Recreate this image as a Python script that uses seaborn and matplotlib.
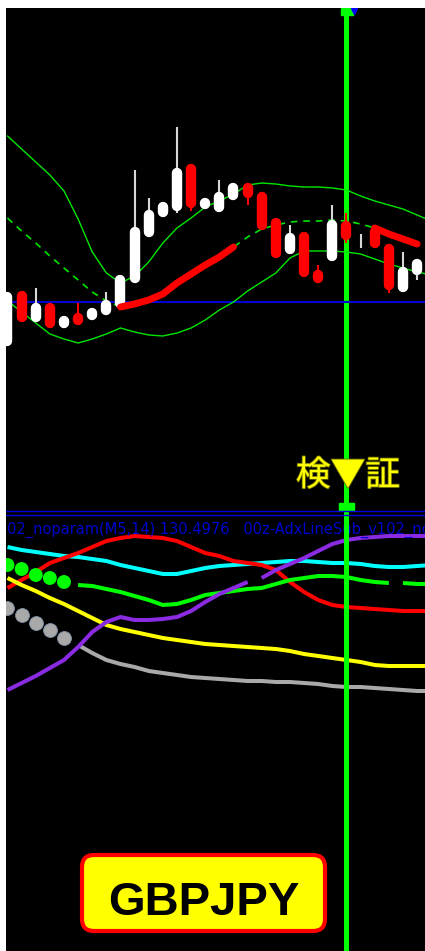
import matplotlib
matplotlib.use("Agg")  # headless
import matplotlib.pyplot as plt
import matplotlib.patheffects as pe
from matplotlib.patches import FancyBboxPatch, Rectangle
from matplotlib.lines import Line2D
from matplotlib.transforms import blended_transform_factory
import numpy as np
import seaborn as sns

# ---------------------------------------------------------------------
# Price panel data (GBPJPY M5, 30 bars)
# ---------------------------------------------------------------------
CANDLE_OPEN = [190.54, 191.09, 190.78, 190.97, 190.72, 190.87, 190.80, 190.85, 190.92, 191.17,
               191.63, 191.83, 191.89, 192.36, 191.93, 191.88, 192.00, 192.17, 192.08, 191.82,
               191.46, 191.68, 191.30, 191.39, 191.79, 191.60, 191.73, 191.56, 191.08, 191.25]
CANDLE_HIGH = [191.08, 191.09, 191.12, 190.97, 190.84, 190.97, 190.92, 191.08, 191.25, 192.30,
               192.02, 191.98, 192.73, 192.36, 192.00, 192.20, 192.17, 192.17, 192.08, 191.82,
               191.75, 191.68, 191.35, 191.95, 191.87, 191.66, 191.73, 191.56, 191.48, 191.41]
CANDLE_LOW = [190.54, 190.78, 190.78, 190.72, 190.72, 190.75, 190.80, 190.85, 190.92, 191.17,
              191.63, 191.83, 191.87, 191.89, 191.93, 191.88, 192.00, 191.95, 191.70, 191.42,
              191.46, 191.23, 191.17, 191.39, 191.57, 191.52, 191.52, 191.07, 191.08, 191.20]
CANDLE_CLOSE = [191.08, 190.78, 190.97, 190.72, 190.84, 190.75, 190.92, 191.00, 191.25, 191.73,
                191.90, 191.98, 192.32, 191.92, 192.00, 192.08, 192.17, 192.02, 191.70, 191.42,
                191.67, 191.23, 191.17, 191.80, 191.60, 191.66, 191.52, 191.10, 191.33, 191.41]

BAND_UPPER = [192.64, 192.51, 192.38, 192.25, 192.09, 191.81, 191.48, 191.27, 191.17, 191.24,
              191.38, 191.57, 191.72, 191.82, 191.93, 191.99, 192.06, 192.15, 192.17, 192.16,
              192.14, 192.13, 192.13, 192.12, 192.10, 192.04, 191.99, 191.95, 191.91, 191.85, 191.79]
BAND_LOWER = [190.99, 190.88, 190.77, 190.66, 190.61, 190.57, 190.61, 190.66, 190.72, 190.68,
              190.65, 190.64, 190.67, 190.72, 190.80, 190.90, 190.98, 191.09, 191.18, 191.27,
              191.42, 191.49, 191.49, 191.49, 191.48, 191.46, 191.41, 191.36, 191.32, 191.28, 191.25]
BAND_MIDDLE = [191.82, 191.69, 191.57, 191.44, 191.32, 191.20, 191.08, 190.99, 190.93, 190.96,
               191.00, 191.06, 191.17, 191.26, 191.35, 191.43, 191.53, 191.63, 191.71, 191.75,
               191.78, 191.79, 191.79, 191.80, 191.79, 191.76, 191.72, 191.66, 191.61, 191.56]
MIDDLE_DASHED = [(0, 27)]
MIDDLE_RED = [(8, 17), (26, 30)]
LEVEL_LINE = 190.98
MARK_BAR = 24

# ---------------------------------------------------------------------
# Sub window data (31 values, last one just off screen)
# ---------------------------------------------------------------------
SUB_CYAN = [41.3, 41.0, 40.8, 40.6, 40.4, 40.3, 40.1, 39.9, 39.5, 39.2, 38.9, 38.6, 38.6, 38.9, 39.2, 39.4,
            39.5, 39.6, 39.7, 39.8, 39.9, 39.9, 39.8, 39.7, 39.7, 39.6, 39.4, 39.3, 39.3, 39.4, 39.5]
SUB_RED = [37.2, 38.0, 38.8, 39.7, 40.2, 40.7, 41.3, 41.9, 42.2, 42.4, 42.3, 42.2, 41.9, 41.3, 40.7, 40.4,
           39.9, 39.7, 39.5, 39.0, 37.8, 36.8, 36.0, 35.5, 35.3, 35.2, 35.1, 35.0, 34.9, 34.9, 34.9]
SUB_GREEN = [39.5, 39.1, 38.5, 38.2, 37.8, 37.5, 37.4, 37.1, 36.8, 36.4, 36.0, 35.5, 35.6, 36.0, 36.5, 36.7,
             36.9, 37.1, 37.2, 37.6, 38.0, 38.2, 38.4, 38.4, 38.3, 38.0, 37.8, 37.7, 37.7, 37.6, 37.6]
SUB_GRAY = [35.2, 34.5, 33.7, 33.0, 32.2, 31.5, 30.7, 30.0, 29.6, 29.3, 28.9, 28.7, 28.5, 28.3, 28.2, 28.1,
            28.0, 27.9, 27.9, 27.8, 27.8, 27.7, 27.6, 27.4, 27.3, 27.3, 27.2, 27.1, 27.0, 26.9, 26.9]
SUB_YELLOW = [38.2, 37.5, 36.9, 36.2, 35.6, 34.9, 34.2, 33.5, 33.1, 32.8, 32.5, 32.2, 32.0, 31.8, 31.6, 31.5,
              31.4, 31.3, 31.2, 31.1, 30.9, 30.6, 30.4, 30.2, 30.0, 29.8, 29.5, 29.4, 29.4, 29.4, 29.4]
SUB_PURPLE = [27.0, 27.7, 28.4, 29.2, 30.0, 31.3, 32.8, 33.8, 34.3, 34.0, 34.0, 34.1, 34.3, 34.9, 35.8, 36.6,
              37.2, 37.8, 38.2, 39.0, 39.6, 40.2, 40.9, 41.6, 42.0, 42.2, 42.3, 42.4, 42.4, 42.4, 42.4]
GREEN_DOTS = (0, 5)
GRAY_DOTS = (0, 5)
GREEN_SEGMENTS = [(5, 28), (28, 31)]
GRAY_SEGMENTS = [(5, 31)]
PURPLE_SEGMENTS = [(0, 18), (18, 31)]
FULL = [(0, 31)]

SUB_LABEL = "02_noparam(M5,14) 130.4976   00z-AdxLineSub_v102_no"
MARK_TEXT = "検▼証"
SYMBOL = "GBPJPY"

# ---------------------------------------------------------------------
W, H = 425, 951
XLIM = (-0.106, 29.56)
TOP_YLIM = (188.88, 193.92)
SUB_YLIM = (0.9, 44.8)

sns.set_theme(style="dark")
plt.rcParams["font.family"] = ["DejaVu Sans"]

fig = plt.figure(figsize=(W / 100, H / 100), dpi=100, facecolor="white")
ax = fig.add_axes([6 / W, 439 / H, 419 / W, 504 / H])
ax2 = fig.add_axes([6 / W, 0, 419 / W, 439 / H])
for a in (ax, ax2):
    a.set_facecolor("black")
    a.set_xlim(*XLIM)
    a.set_xticks([])
    a.set_yticks([])
    for s in a.spines.values():
        s.set_visible(False)
ax.set_ylim(*TOP_YLIM)
ax2.set_ylim(*SUB_YLIM)

# ---------------------------------------------------------------------
# Price panel
# ---------------------------------------------------------------------
bars = np.arange(len(CANDLE_OPEN))
line_x = np.arange(len(BAND_UPPER))

ax.axvline(MARK_BAR, color="#00FF00", lw=3.6, zorder=1)
ax.axhline(LEVEL_LINE, color="#0000D0", lw=1.5, zorder=2)

band_green = "#00E600"
sns.lineplot(x=line_x, y=BAND_UPPER, ax=ax, color=band_green, linewidth=1.0, zorder=2)
sns.lineplot(x=line_x, y=BAND_LOWER, ax=ax, color=band_green, linewidth=1.0, zorder=2)
mid = np.array(BAND_MIDDLE)
mx = np.arange(len(mid))
for a_, b_ in MIDDLE_DASHED:
    sns.lineplot(x=mx[a_:b_], y=mid[a_:b_], ax=ax, color=band_green, linewidth=1.2,
                 linestyle=(0, (4, 3.5)), zorder=2)

# candles
o = np.array(CANDLE_OPEN)
c = np.array(CANDLE_CLOSE)
bull = c >= o
body_top = np.maximum(o, c)
body_bot = np.minimum(o, c)
cap = 0.052  # half body width, in price units
top_in = body_top - cap
bot_in = body_bot + cap
centre = (body_top + body_bot) / 2
short = top_in <= bot_in
top_in[short] = centre[short] + 0.001
bot_in[short] = centre[short] - 0.001
body_cols = np.where(bull, "#FFFFFF", "#FF0000")
wick_cols = np.where(bull, "#D8D8D8", "#FF0000")
ax.vlines(bars, CANDLE_LOW, CANDLE_HIGH, colors=wick_cols, linewidth=1.5, zorder=4)
ax.vlines(bars, bot_in, top_in, colors=body_cols, linewidth=7.5, capstyle="round", zorder=5)

for a_, b_ in MIDDLE_RED:
    sns.lineplot(x=mx[a_:b_], y=mid[a_:b_], ax=ax, color="#FF0000", linewidth=5,
                 solid_capstyle="round", zorder=6)

# small markers on the vertical line
bt = blended_transform_factory(ax.transData, ax.transAxes)
ax.add_patch(Rectangle((MARK_BAR - 0.42, 1 - 7 / 504), 0.85, 7 / 504, transform=bt,
                       color="#00FF00", zorder=7))
ax.add_patch(Rectangle((MARK_BAR - 0.5, 2 / 504), 1.0, 7 / 504, transform=bt,
                       color="#00FF00", zorder=7))
ax.plot([MARK_BAR + 0.5], [1 - 2.5 / 504], transform=bt, marker="v", ms=4,
        color="#0000FF", zorder=8)

# ---------------------------------------------------------------------
# Sub window
# ---------------------------------------------------------------------
sub_x = np.arange(len(SUB_CYAN))


def draw_series(axis, values, color, segments, zorder):
    v = np.array(values)
    for a_, b_ in segments:
        sns.lineplot(x=sub_x[a_:b_], y=v[a_:b_], ax=axis, color=color, linewidth=2.9,
                     solid_capstyle="butt", zorder=zorder)


draw_series(ax2, SUB_CYAN, "#00FFFF", FULL, 3)
draw_series(ax2, SUB_RED, "#FF0000", FULL, 3.1)
draw_series(ax2, SUB_YELLOW, "#FFFF00", FULL, 3.2)
draw_series(ax2, SUB_GRAY, "#A9A9A9", GRAY_SEGMENTS, 3.3)
draw_series(ax2, SUB_GREEN, "#00FF00", GREEN_SEGMENTS, 3.4)
draw_series(ax2, SUB_PURPLE, "#8A2BE2", PURPLE_SEGMENTS, 3.5)

g0, g1 = GREEN_DOTS
sns.scatterplot(x=sub_x[g0:g1], y=SUB_GREEN[g0:g1], ax=ax2, color="#00FF00", s=100,
                edgecolor="none", zorder=3.6)
k0, k1 = GRAY_DOTS
sns.scatterplot(x=sub_x[k0:k1], y=SUB_GRAY[k0:k1], ax=ax2, color="#A9A9A9", s=100,
                edgecolor="#7f8fa8", linewidth=0.6, zorder=3.6)

ax2.text(0.002, 0.959, SUB_LABEL, transform=ax2.transAxes, ha="left", va="center",
         fontsize=10.5, color="#0000CD", clip_on=True, zorder=6)
ax2.axvline(MARK_BAR, color="#00FF00", lw=3.6, zorder=7)
for a in (ax, ax2):
    a.set(xlabel="", ylabel="")

# window separator
for yy in (510.5, 514.5):
    fig.add_artist(Line2D([6 / W, 1], [(H - yy) / H] * 2, transform=fig.transFigure,
                          color="#0000E0", lw=1.0, zorder=10))

# ---------------------------------------------------------------------
# Labels
# ---------------------------------------------------------------------
fig.text(348 / W, (H - 476) / H, MARK_TEXT, ha="center", va="center", fontsize=25,
         color="#FFFF00", family=["Noto Sans CJK JP", "DejaVu Sans"], zorder=12,
         path_effects=[pe.withStroke(linewidth=1.2, foreground="#6E6E00")])

box = FancyBboxPatch((0.82, 0.20), 2.43, 0.76, boxstyle="round,pad=0,rounding_size=0.12",
                     transform=fig.dpi_scale_trans, facecolor="#FFFF00", edgecolor="#FF0000",
                     linewidth=3, zorder=12)
fig.add_artist(box)
fig.text(203.5 / W, (H - 915) / H, SYMBOL, ha="center", va="baseline", fontsize=34,
         fontweight="bold", family="Liberation Sans", color="black", zorder=13)

fig.savefig("out.png", dpi=100, facecolor="white")
plt.close(fig)
